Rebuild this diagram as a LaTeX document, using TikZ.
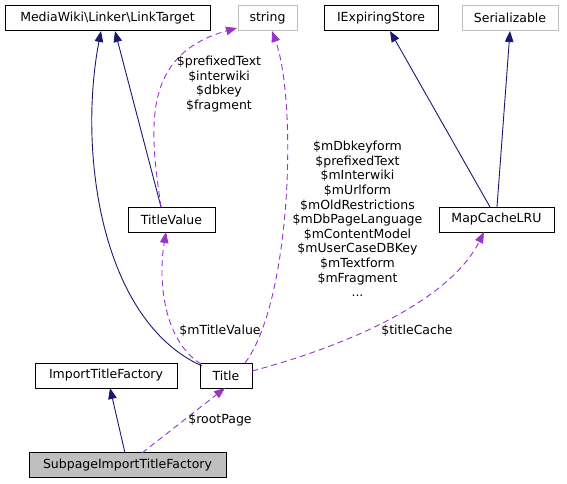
\documentclass[tikz,border=0pt]{standalone}
\usepackage{fontspec}
\setmainfont{DejaVu Sans}
\usetikzlibrary{arrows.meta}
\definecolor{navyedge}{HTML}{191970}
\definecolor{purpleedge}{HTML}{9A32CD}
\definecolor{graybox}{HTML}{BFBFBF}
\begin{document}
\begin{tikzpicture}[x=1pt,y=-1pt,
  every node/.style={font=\fontsize{12.5}{14.6}\selectfont, inner sep=0pt},
  cls/.style={draw=black, line width=0.9pt, fill=white, minimum height=25pt, anchor=center},
  ext/.style={draw=graybox, line width=0.9pt, fill=white, minimum height=25pt, anchor=center},
  inherit/.style={navyedge, line width=0.9pt, -{Triangle[length=11pt,width=8.5pt]}},
  usage/.style={purpleedge, line width=0.9pt, dash pattern=on 6pt off 4pt, -{Triangle[length=11pt,width=8.5pt]}},
  lbl/.style={align=center, text=black}
]
\useasboundingbox (0,0) rectangle (567,484);
% nodes
\node[cls, minimum width=205pt] (lt) at (107.5,18) {MediaWiki\textbackslash Linker\textbackslash LinkTarget};
\node[ext, minimum width=59pt] (str) at (267.5,18) {string};
\node[cls, minimum width=114pt] (ies) at (381,18) {IExpiringStore};
\node[ext, minimum width=96pt] (ser) at (510,18) {Serializable};
\node[cls, minimum width=87pt] (tv) at (171.5,219.5) {TitleValue};
\node[cls, minimum width=115pt] (mc) at (496.5,219.5) {MapCacheLRU};
\node[cls, minimum width=142pt] (itf) at (106,375.5) {ImportTitleFactory};
\node[cls, minimum width=52pt] (ti) at (226,375.5) {Title};
\node[cls, minimum width=197pt, fill=graybox] (sitf) at (127.5,465) {SubpageImportTitleFactory};
% coordinates on boundaries
\coordinate (tvtop) at (161,207);
\coordinate (tvbot) at (166,232);
\coordinate (lta) at (115,31);
\coordinate (ltb) at (101,31);
\coordinate (stra) at (237,28);
\coordinate (strb) at (272,31);
\coordinate (mcbot) at (484,232);
\coordinate (mctopa) at (490,207);
\coordinate (mctopb) at (497,207);
\coordinate (iesb) at (390,31);
\coordinate (serb) at (510,31);
\coordinate (tia) at (202,366);
\coordinate (tib) at (201,364);
\coordinate (tic) at (245,363);
\coordinate (tid) at (252,371);
\coordinate (tie) at (225,388);
\coordinate (itfb) at (110,388);
\coordinate (sa) at (125,453);
\coordinate (sb) at (142,453);
% inheritance edges
\draw[inherit] (tvtop) -- (lta);
\draw[inherit] (tia) .. controls (100,320) and (78,150) .. (ltb);
\draw[inherit] (mctopa) -- (iesb);
\draw[inherit] (mctopb) -- (serb);
\draw[inherit] (sa) -- (itfb);
% usage edges
\draw[usage] (tvtop) .. controls (150,130) and (140,55) .. (stra);
\draw[usage] (tic) .. controls (292,300) and (297,100) .. (strb);
\draw[usage] (tib) .. controls (163,340) and (158,280) .. (tvbot);
\draw[usage] (tid) .. controls (350,345) and (450,300) .. (mcbot);
\draw[usage] (sb) -- (tie);
% labels
\node[lbl] (l1) at (219,84) {\$prefixedText\\\$interwiki\\\$dbkey\\\$fragment};
\node[lbl] (l2) at (357.5,219) {\$mDbkeyform\\\$prefixedText\\\$mInterwiki\\\$mUrlform\\\$mOldRestrictions\\\$mDbPageLanguage\\\$mContentModel\\\$mUserCaseDBKey\\\$mTextform\\\$mFragment\\...};
\node[lbl] (l3) at (220,331) {\$mTitleValue};
\node[lbl] (l4) at (417,331) {\$titleCache};
\node[lbl] (l5) at (220,420) {\$rootPage};
\end{tikzpicture}
\end{document}
